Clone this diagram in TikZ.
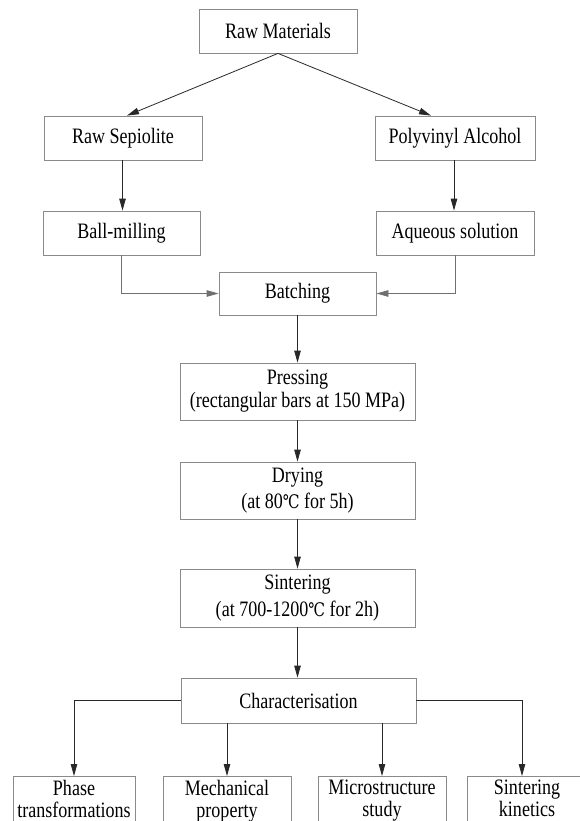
\documentclass[tikz,border=0pt]{standalone}
\usepackage{fontspec}
\setmainfont{Liberation Serif}[FakeStretch=0.82]
\newfontfamily\degfont{DejaVu Serif}[FakeStretch=0.8,Scale=0.85]
\usetikzlibrary{arrows.meta}
\definecolor{boxgray}{HTML}{8A8A8A}
\definecolor{arrdark}{HTML}{282828}
\definecolor{arrgray}{HTML}{707070}
\begin{document}
\begin{tikzpicture}[x=1pt,y=-1pt,
  box/.style={draw=boxgray,line width=0.8pt,inner sep=0pt,align=center,
    font=\fontsize{22}{24}\selectfont},
  leaf/.style={draw=boxgray,line width=0.8pt,anchor=north,inner xsep=0pt,inner ysep=4pt,
    align=center,font=\fontsize{22}{22}\selectfont},
  flow/.style={draw=arrdark,line width=0.8pt,-{Triangle[length=12pt,width=6.5pt]}},
  flowg/.style={draw=arrgray,line width=0.8pt,-{Triangle[length=12pt,width=6.5pt]}}]
\clip (0,0) rectangle (580,821);
\fill[white] (0,0) rectangle (580,821);

\node[box,minimum width=158,minimum height=44] (raw) at (278,31) {Raw Materials};
\node[box,minimum width=158,minimum height=44] (sep) at (123,138) {Raw Sepiolite};
\node[box,minimum width=160,minimum height=44] (pva) at (455,138) {Polyvinyl Alcohol};
\node[box,minimum width=157,minimum height=44] (ball) at (121.5,233) {Ball-milling};
\node[box,minimum width=158,minimum height=44] (aq) at (455,233) {Aqueous solution};
\node[box,minimum width=157,minimum height=43] (batch) at (297.5,293.5) {Batching};
\node[box,minimum width=235,minimum height=57,font=\fontsize{22}{23}\selectfont] (press) at (297.5,391.5) {Pressing\\(rectangular bars at 150 MPa)};
\node[box,minimum width=235,minimum height=57,font=\fontsize{22}{26}\selectfont] (dry) at (297.5,490.5) {Drying\\(at 80{\degfont ℃} for 5h)};
\node[box,minimum width=235,minimum height=58,font=\fontsize{22}{27}\selectfont] (sint) at (297.5,598) {Sintering\\(at 700-1200{\degfont ℃} for 2h)};
\node[box,minimum width=235,minimum height=45] (char) at (298.5,700.5) {Characterisation};

\node[leaf,minimum width=122] (phase) at (74,776) {Phase\\transformations};
\node[leaf,minimum width=128] (mech) at (227,776) {Mechanical\\property};
\node[leaf,minimum width=128] (micro) at (382,776) {Microstructure\\study};
\node[leaf,minimum width=120] (skin) at (527,776) {Sintering\\kinetics};

\draw[flow] (raw.south) -- ([xshift=4pt]sep.north);
\draw[flow] (raw.south) -- ([xshift=-24pt]pva.north);
\draw[flow] ([xshift=-0.5pt]sep.south) -- ([xshift=-0.5pt]sep.south |- ball.north);
\draw[flow] ([xshift=-1pt]pva.south) -- ([xshift=-1pt]pva.south |- aq.north);
\draw[flowg] ([xshift=-0.5pt]ball.south) |- (batch.west);
\draw[flowg] (aq.south) |- (batch.east);
\draw[flow] (batch.south) -- (batch.south |- press.north);
\draw[flow] (press.south) -- (dry.north);
\draw[flow] (dry.south) -- (sint.north);
\draw[flow] (sint.south) -- (sint.south |- char.north);
\draw[flow] (char.west) -| (phase.north);
\draw[flow] (char.south -| mech.north) -- (mech.north);
\draw[flow] (char.south -| micro.north) -- (micro.north);
\draw[flow] (char.east) -| ([xshift=-5pt]skin.north);
\end{tikzpicture}
\end{document}
